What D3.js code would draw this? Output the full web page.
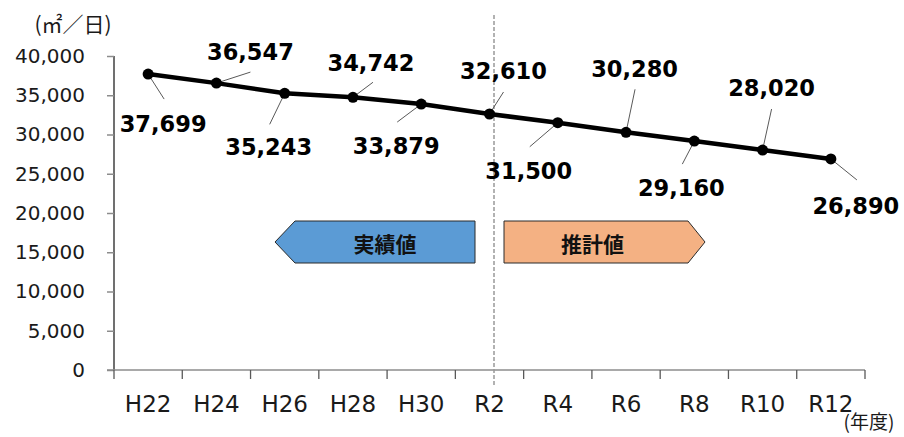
<!DOCTYPE html>
<html>
<head>
<meta charset="utf-8">
<script src="https://cdn.jsdelivr.net/npm/d3@7"></script>
<style>
  html, body { margin: 0; padding: 0; background: #fff; }
  svg { display: block; }
</style>
</head>
<body>
<div id="chart"></div>
<script>
// Fiscal years and daily volume (㎡/日)
const years = ["H22", "H24", "H26", "H28", "H30", "R2", "R4", "R6", "R8", "R10", "R12"];
const volumes = [37699, 36547, 35243, 34742, 33879, 32610, 31500, 30280, 29160, 28020, 26890];
const yTicks = [0, 5000, 10000, 15000, 20000, 25000, 30000, 35000, 40000];

// Label placement relative to each point: label centre and leader end
const labelOffsets = [
  { dx: 15, dy: 50, lx: 16, ly: 25 },
  { dx: 34, dy: -31, lx: 34, ly: -11 },
  { dx: -16, dy: 54, lx: -15, ly: 31 },
  { dx: 18, dy: -34, lx: 20, ly: -15 },
  { dx: -25, dy: 42, lx: -24, ly: 18 },
  { dx: 14, dy: -43, lx: 14, ly: -22 },
  { dx: -29, dy: 48, lx: -28, ly: 24 },
  { dx: 8.5, dy: -63, lx: 9, ly: -43 },
  { dx: -13, dy: 47, lx: -12, ly: 23 },
  { dx: 9, dy: -62, lx: 9, ly: -41 },
  { dx: 25, dy: 47, lx: 26, ly: 21 }
];

const W = 904, H = 437;
const plotLeft = 114, plotRight = 865, plotTop = 56, plotBottom = 370;

const svg = d3.select("#chart").append("svg")
  .attr("width", W).attr("height", H);

const x = d3.scaleBand().domain(years).range([plotLeft, plotRight]).padding(0);
const y = d3.scaleLinear().domain([0, 40000]).range([plotBottom, plotTop]);
const fmt = d3.format(",");

const numFont = "'DejaVu Sans', Verdana, sans-serif";
const jpFont = "'Noto Sans CJK JP', 'Noto Sans', sans-serif";

// Y axis
const yAxis = svg.append("g").attr("transform", `translate(${plotLeft},0)`)
  .call(d3.axisLeft(y).tickValues(yTicks).tickFormat(fmt).tickSize(7).tickPadding(22));
yAxis.select(".domain").attr("stroke", "#404040").attr("stroke-width", 1.5)
  .attr("d", `M0,${plotTop}V${plotBottom}`);
yAxis.selectAll(".tick line").attr("stroke", "#8c8c8c").attr("stroke-width", 1.5);
yAxis.selectAll(".tick text")
  .attr("font-family", numFont).attr("font-size", 20).attr("fill", "#1a1a1a");

// X axis: ticks at band boundaries, labels at band centres
const xg = svg.append("g");
xg.append("line")
  .attr("x1", plotLeft - 7).attr("x2", plotRight).attr("y1", plotBottom).attr("y2", plotBottom)
  .attr("stroke", "#8c8c8c").attr("stroke-width", 1.5);
const bounds = years.map(d => x(d)).concat([x(years[years.length - 1]) + x.bandwidth()]);
xg.selectAll("line.xt").data(bounds).join("line")
  .attr("class", "xt")
  .attr("x1", d => d).attr("x2", d => d)
  .attr("y1", plotBottom).attr("y2", plotBottom + 9)
  .attr("stroke", "#595959").attr("stroke-width", 1.3);
xg.selectAll("text").data(years).join("text")
  .attr("x", d => x(d) + x.bandwidth() / 2)
  .attr("y", 412)
  .attr("text-anchor", "middle")
  .attr("font-family", numFont).attr("font-size", 23).attr("fill", "#1a1a1a")
  .text(d => d);

// Boundary between actual and projected values
svg.append("line")
  .attr("x1", 494).attr("x2", 494).attr("y1", 15).attr("y2", 386)
  .attr("stroke", "#999").attr("stroke-width", 1.5).attr("stroke-dasharray", "4,2");

// Direction arrows
svg.append("polygon")
  .attr("points", "275,242 295,221 475,221 475,263 295,263")
  .attr("fill", "#5B9BD5").attr("stroke", "#2b2b2b").attr("stroke-width", 1);
svg.append("text").attr("x", 385).attr("y", 251.5)
  .attr("text-anchor", "middle").attr("font-family", jpFont)
  .attr("font-weight", "bold").attr("font-size", 21).attr("fill", "#111")
  .text("実績値");
svg.append("polygon")
  .attr("points", "504,221 688,221 705,242 688,263 504,263")
  .attr("fill", "#F4B183").attr("stroke", "#2b2b2b").attr("stroke-width", 1);
svg.append("text").attr("x", 592.5).attr("y", 251.5)
  .attr("text-anchor", "middle").attr("font-family", jpFont)
  .attr("font-weight", "bold").attr("font-size", 21).attr("fill", "#111")
  .text("推計値");

// Unit labels
svg.append("text").attr("x", 73).attr("y", 32)
  .attr("text-anchor", "middle").attr("font-family", jpFont)
  .attr("font-size", 21).attr("fill", "#1a1a1a").text("(㎡／日)");
svg.append("text").attr("x", 869).attr("y", 429)
  .attr("text-anchor", "middle").attr("font-family", jpFont)
  .attr("font-size", 19).attr("fill", "#1a1a1a").text("(年度)");

const pts = years.map((d, i) => ({
  year: d, v: volumes[i],
  px: x(d) + x.bandwidth() / 2, py: y(volumes[i]), off: labelOffsets[i]
}));

// Leader lines
svg.selectAll("line.leader").data(pts).join("line")
  .attr("class", "leader")
  .attr("x1", d => d.px).attr("y1", d => d.py)
  .attr("x2", d => d.px + d.off.lx).attr("y2", d => d.py + d.off.ly)
  .attr("stroke", "#595959").attr("stroke-width", 1);

// Series line and markers
svg.append("path").datum(pts)
  .attr("d", d3.line().x(d => d.px).y(d => d.py))
  .attr("fill", "none").attr("stroke", "#000").attr("stroke-width", 4.5)
  .attr("stroke-linejoin", "round");
svg.selectAll("circle").data(pts).join("circle")
  .attr("cx", d => d.px).attr("cy", d => d.py).attr("r", 5.5).attr("fill", "#000");

// Value labels
svg.selectAll("text.val").data(pts).join("text")
  .attr("class", "val")
  .attr("x", d => d.px + d.off.dx).attr("y", d => d.py + d.off.dy + 8)
  .attr("text-anchor", "middle")
  .attr("font-family", numFont).attr("font-weight", "bold")
  .attr("font-size", 22.5).attr("fill", "#000")
  .text(d => fmt(d.v));
</script>
</body>
</html>
